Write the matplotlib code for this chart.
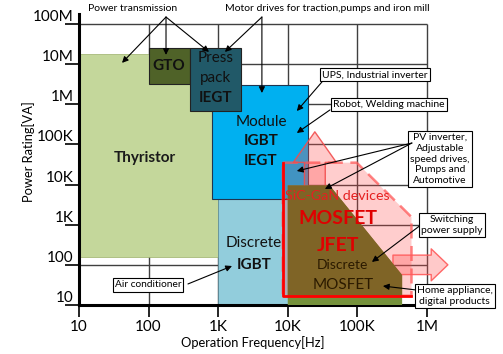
import matplotlib
matplotlib.use("Agg")
import matplotlib.pyplot as plt
from matplotlib.patches import FancyArrowPatch, ArrowStyle

plt.rcParams['font.family'] = ['Lato', 'DejaVu Sans']

# axis ticks
x_ticks = [10, 100, 1e3, 1e4, 1e5, 1e6]
x_labels = ['10', '100', '1K', '10K', '100K', '1M']
y_ticks = [10, 100, 1e3, 1e4, 1e5, 1e6, 1e7, 1e8]
y_labels = ['10', '100', '1K', '10K', '100K', '1M', '10M', '100M']

# device regions: frequency range [Hz] and power range [VA]
thyristor_f = [10, 1e3]
thyristor_p = [160, 1.8e7]
gto_f = [100, 400]
gto_p = [3.2e6, 2.5e7]
presspack_f = [400, 2.1e3]
presspack_p = [6.8e5, 2.5e7]
module_f = [810, 19.5e3]
module_p = [4.4e3, 3e6]
igbt_f = [1e3, 1e4]
igbt_p = [10, 4.4e3]
mosfet_f = [1e4, 4e4, 4.4e5, 4.4e5, 1e4]
mosfet_p = [9.5e3, 9.5e3, 56, 10, 10]
sic_f = [8.5e3, 9.8e4, 6e5, 6e5, 8.5e3]
sic_p = [3.5e4, 3.5e4, 1.55e3, 17, 17]
# expansion arrows of SiC/GaN: (start, end)
sic_up_f = 24.5e3
sic_up_p = [8e3, 2.05e5]
sic_right_f = [3.25e5, 2e6]
sic_right_p = 100

fig = plt.figure(figsize=(5.03, 3.54), dpi=100)
ax = fig.add_axes([79 / 503, 49 / 354, 421 / 503, 300 / 354])
ax.set_xscale('log')
ax.set_yscale('log')
ax.set_xlim(10, 10 ** 7.05)
ax.set_ylim(10, 10 ** 8.47)


def rect(f, p, **kw):
    return ax.fill([f[0], f[1], f[1], f[0]], [p[0], p[0], p[1], p[1]], **kw)[0]


# grid
ax.hlines(y_ticks[1:], x_ticks[0], x_ticks[-1], color='#404040', lw=1, zorder=1)
ax.vlines(x_ticks[1:], y_ticks[0], y_ticks[-1], color='#404040', lw=1, zorder=1)

rect(thyristor_f, thyristor_p, fc='#C4D79B', ec='#9BB06A', lw=0.5, zorder=2)
rect(igbt_f, igbt_p, fc='#92CDDC', ec='#5A8A99', lw=0.5, zorder=2)
rect(gto_f, gto_p, fc='#4F6228', ec='#222222', lw=0.8, zorder=3)
rect(module_f, module_p, fc='#00B0F0', ec='#1F3550', lw=0.8, zorder=3)
rect(presspack_f, presspack_p, fc='#215968', ec='#222222', lw=0.8, zorder=4)

ax.fill(mosfet_f, mosfet_p, fc='#76923C', ec='none', zorder=4)
sic = ax.fill(sic_f, sic_p, fc=(1, 0.25, 0.25, 0.26), ec=(1, 0.35, 0.35, 0.75),
              lw=1.8, ls=(0, (6, 3)), zorder=5)[0]
brown = ax.fill(mosfet_f, mosfet_p, fc='#7F6426', ec='none', zorder=6)[0]
brown.set_clip_path(sic)

up = FancyArrowPatch((sic_up_f, sic_up_p[0]), (sic_up_f, sic_up_p[1]),
                     arrowstyle=ArrowStyle.Simple(head_length=22, head_width=31, tail_width=15),
                     mutation_scale=1, shrinkA=0, shrinkB=0,
                     fc=(1, 0.3, 0.3, 0.3), ec=(0.95, 0.3, 0.3, 0.9), lw=1, zorder=5)
ax.add_patch(up)
right = FancyArrowPatch((sic_right_f[0], sic_right_p), (sic_right_f[1], sic_right_p),
                        arrowstyle=ArrowStyle.Simple(head_length=12, head_width=23, tail_width=14),
                        mutation_scale=1, shrinkA=0, shrinkB=0,
                        fc=(1, 0.3, 0.3, 0.3), ec=(1, 0.35, 0.35, 0.9), lw=1, zorder=5)
ax.add_patch(right)
# solid red left / bottom edges of the SiC region
ax.plot([sic_f[0], sic_f[4], sic_f[3]], [sic_p[0], sic_p[4], sic_p[3]],
        color='#FF0000', lw=2, zorder=7)

# region labels
ax.text(88.7, 4.6e4, 'Thyristor', ha='center', va='center', fontsize=11, fontweight='bold', color='#1a1a1a', zorder=8)
ax.text(196, 8.9e6, 'GTO', ha='center', va='center', fontsize=11, fontweight='bold', color='#111111', zorder=8)
ax.text(929, 1.42e7, 'Press', ha='center', va='center', fontsize=11, color='#111111', zorder=8)
ax.text(929, 4.5e6, 'pack', ha='center', va='center', fontsize=11, color='#111111', zorder=8)
ax.text(929, 1.43e6, 'IEGT', ha='center', va='center', fontsize=11, fontweight='bold', color='#111111', zorder=8)
ax.text(4.12e3, 3.61e5, 'Module', ha='center', va='center', fontsize=11, color='#111111', zorder=8)
ax.text(4.12e3, 1.22e5, 'IGBT', ha='center', va='center', fontsize=11, fontweight='bold', color='#111111', zorder=8)
ax.text(4.12e3, 3.86e4, 'IEGT', ha='center', va='center', fontsize=11, fontweight='bold', color='#111111', zorder=8)
ax.text(3.27e3, 350, 'Discrete', ha='center', va='center', fontsize=11, color='#111111', zorder=8)
ax.text(3.27e3, 99, 'IGBT', ha='center', va='center', fontsize=11, fontweight='bold', color='#111111', zorder=8)
ax.text(52e3, 5.19e3, 'SiC-GaN devices', ha='center', va='center', fontsize=10.3, color='#E52020', zorder=8)
ax.text(52.6e3, 1.39e3, 'MOSFET', ha='center', va='center', fontsize=14, fontweight='bold', color='#E00000', zorder=8)
ax.text(52.6e3, 295, 'JFET', ha='center', va='center', fontsize=14, fontweight='bold', color='#E00000', zorder=8)
ax.text(62e3, 99, 'Discrete', ha='center', va='center', fontsize=10, color='#2B1A00', zorder=8)
ax.text(62e3, 31.5, 'MOSFET', ha='center', va='center', fontsize=11, color='#2B1A00', zorder=8)

arrow_kw = dict(arrowstyle='-|>', color='black', lw=0.8, shrinkA=0, shrinkB=0, mutation_scale=9)
box_kw = dict(boxstyle='square,pad=0.2', fc='white', ec='black', lw=0.8)

# applications
ax.text(59.7, 2.36e8, 'Power transmission', ha='center', va='center', fontsize=7.5, zorder=9)
for tgt in [(41.5, 1.07e7), (178, 1.69e7), (738, 2.0e7)]:
    ax.annotate('', xy=tgt, xytext=(178, 1.48e8), arrowprops=arrow_kw, zorder=9)
ax.text(36.6e3, 2.36e8, 'Motor drives for traction,pumps and iron mill', ha='center', va='center',
        fontsize=7.5, zorder=9)
for tgt in [(1.25e3, 2.0e7), (4.25e3, 1.9e6)]:
    ax.annotate('', xy=tgt, xytext=(4.25e3, 1.48e8), arrowprops=arrow_kw, zorder=9)

ax.annotate('', xy=(13.5e3, 6.76e5), xytext=(31e3, 3.58e6), arrowprops=arrow_kw, zorder=9)
ax.text(179e3, 5.36e6, 'UPS, Industrial inverter', ha='center', va='center', fontsize=7.5, bbox=box_kw, zorder=10)
ax.annotate('', xy=(13.5e3, 1.92e5), xytext=(40.4e3, 7.2e5), arrowprops=arrow_kw, zorder=9)
ax.text(284e3, 9.6e5, 'Robot, Welding machine', ha='center', va='center', fontsize=7.5, bbox=box_kw, zorder=10)
for tgt in [(13.5e3, 2.17e4), (34.2e3, 7.74e3)]:
    ax.annotate('', xy=tgt, xytext=(608e3, 1.08e5), arrowprops=arrow_kw, zorder=11)
ax.text(1.54e6, 4.3e4, 'PV inverter,\nAdjustable\nspeed drives,\nPumps and\nAutomotive', ha='center',
        va='center', fontsize=7.5, linespacing=1.25, bbox=box_kw, zorder=10)
ax.annotate('', xy=(162e3, 118), xytext=(933e3, 1.17e3), arrowprops=arrow_kw, zorder=9)
ax.text(2.29e6, 980, 'Switching\npower supply', ha='center', va='center', fontsize=7.5,
        linespacing=1.25, bbox=box_kw, zorder=10)
ax.annotate('', xy=(233e3, 29.7), xytext=(695e3, 23.7), arrowprops=arrow_kw, zorder=9)
ax.text(2.52e6, 16.8, 'Home appliance,\ndigital products', ha='center', va='center', fontsize=7.5,
        linespacing=1.25, bbox=box_kw, zorder=10)
ax.annotate('', xy=(1.58e3, 93.5), xytext=(368, 33.4), arrowprops=arrow_kw, zorder=9)
ax.text(98, 31.5, 'Air conditioner', ha='center', va='center', fontsize=7.3, bbox=box_kw, zorder=10)

# axes
ax.minorticks_off()
ax.set_xticks(x_ticks, x_labels)
ax.set_yticks(y_ticks, y_labels)
ax.tick_params(axis='y', length=10, width=1.2, pad=-6, labelsize=11)
ax.tick_params(axis='x', length=8.5, width=1.2, pad=2, labelsize=11)
for lbl in ax.get_yticklabels():
    lbl.set_va('bottom')
for side in ['top', 'right']:
    ax.spines[side].set_visible(False)
ax.spines['left'].set_linewidth(2.2)
ax.spines['bottom'].set_linewidth(2.2)
ax.spines['left'].set_bounds(10, 10 ** 8.25)
ax.spines['bottom'].set_bounds(10, 1e6)
ax.set_xlabel('Operation Frequency[Hz]', fontsize=9.3)
ax.set_ylabel('Power Rating[VA]', fontsize=9.3)
ax.xaxis.set_label_coords(0.413, -0.105)
ax.yaxis.set_label_coords(-0.105, 0.51)

fig.savefig('out.png', dpi=100)
